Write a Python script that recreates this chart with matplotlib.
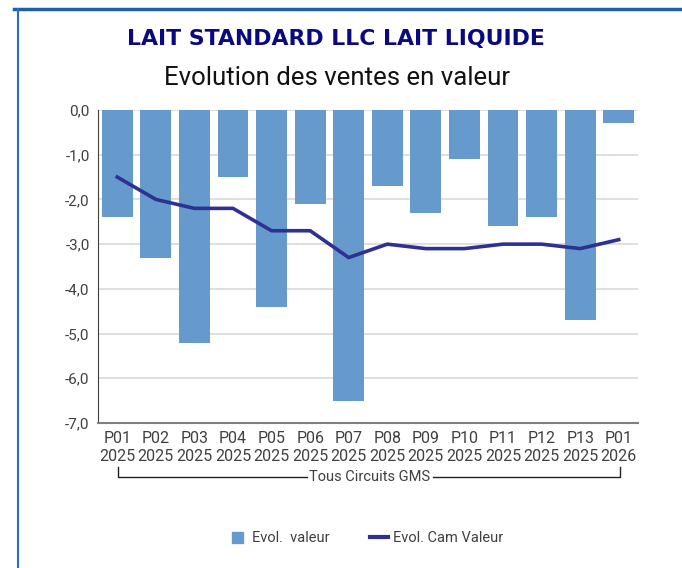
"""
Evolution des ventes en valeur - LAIT STANDARD LLC LAIT LIQUIDE.
Bars: period evolution; line: cumulative annual moving (CAM) evolution.
"""

import matplotlib

matplotlib.use("Agg")
import matplotlib.pyplot as plt  # noqa: E402
from matplotlib.lines import Line2D  # noqa: E402
from matplotlib.patches import Rectangle  # noqa: E402

plt.rcParams["font.family"] = ["Roboto", "DejaVu Sans"]

periods = ["P01", "P02", "P03", "P04", "P05", "P06", "P07",
           "P08", "P09", "P10", "P11", "P12", "P13", "P01"]
years = ["2025"] * 13 + ["2026"]
evol_valeur = [-2.4, -3.3, -5.2, -1.5, -4.4, -2.1, -6.5,
               -1.7, -2.3, -1.1, -2.6, -2.4, -4.7, -0.3]
evol_cam = [-1.5, -2.0, -2.2, -2.2, -2.7, -2.7, -3.3,
            -3.0, -3.1, -3.1, -3.0, -3.0, -3.1, -2.9]
y_ticks = [0, -1, -2, -3, -4, -5, -6, -7]

BAR_COLOR = "#6699CC"
LINE_COLOR = "#2E3192"
TEXT_GRAY = "#404040"

W, H = 682, 568
fig = plt.figure(figsize=(W / 100, H / 100), dpi=100)
ax = fig.add_axes([98 / W, 1 - 423 / H, 540 / W, 313 / H])

x = list(range(len(periods)))
ax.bar(x, evol_valeur, width=0.8, color=BAR_COLOR, zorder=2)
ax.plot(x, evol_cam, color=LINE_COLOR, lw=2.6, zorder=3)

ax.set_xlim(-0.5, len(periods) - 0.5)
ax.set_ylim(-7, 0)
ax.set_yticks(y_ticks)
ax.set_yticklabels([f"{v:.1f}".replace(".", ",") for v in y_ticks],
                   fontsize=11, color=TEXT_GRAY)
ax.set_xticks(x)
ax.set_xticklabels([f"{p}\n{y}" for p, y in zip(periods, years)],
                   fontsize=11.5, color=TEXT_GRAY, linespacing=1.25)
ax.tick_params(axis="both", length=0, pad=6)
ax.grid(axis="y", color="#D9D9D9", lw=1.2, zorder=0)
ax.set_axisbelow(True)
for s in ("top", "right"):
    ax.spines[s].set_visible(False)
ax.spines["left"].set_color("#404040")
ax.spines["bottom"].set_color("#7F7F7F")
ax.spines["bottom"].set_linewidth(1.5)

# group bracket under the tick labels
by = 1 - 477 / H
top = 1 - 467 / H
fig.add_artist(Line2D([118 / W, 118 / W, 307 / W], [top, by, by], color="#222222", lw=1))
fig.add_artist(Line2D([433 / W, 620 / W, 620 / W], [by, by, top], color="#222222", lw=1))
fig.text(370 / W, by, "Tous Circuits GMS", ha="center", va="center",
         fontsize=10.5, color=TEXT_GRAY)

# titles
fig.text(336 / W, 1 - 39 / H, "LAIT STANDARD LLC LAIT LIQUIDE", ha="center", va="center",
         fontsize=15.8, fontweight="bold", color="#0A0A80", family="DejaVu Sans")
fig.text(337 / W, 1 - 78 / H, "Evolution des ventes en valeur", ha="center", va="center",
         fontsize=18.5, color="#111111")

# legend, drawn by hand to keep the square swatch and short line handle
ly = 1 - 538 / H
fig.add_artist(Rectangle((232 / W, 1 - 543 / H), 11 / W, 11 / H, color=BAR_COLOR))
fig.text(252 / W, ly, "Evol.  valeur", va="center", fontsize=10.5, color=TEXT_GRAY)
fig.add_artist(Line2D([370 / W, 388 / W], [1 - 537 / H] * 2, color=LINE_COLOR, lw=3))
fig.text(393 / W, ly, "Evol. Cam Valeur", va="center", fontsize=10.5, color=TEXT_GRAY)

# report frame: top and left blue borders
fig.add_artist(Line2D([14 / W, 1], [1 - 9 / H, 1 - 9 / H], color="#1F5FA8", lw=2.5))
fig.add_artist(Line2D([18 / W, 18 / W], [0, 1 - 9 / H], color="#1E6FD0", lw=1.5))

fig.savefig("out.png", dpi=100)
